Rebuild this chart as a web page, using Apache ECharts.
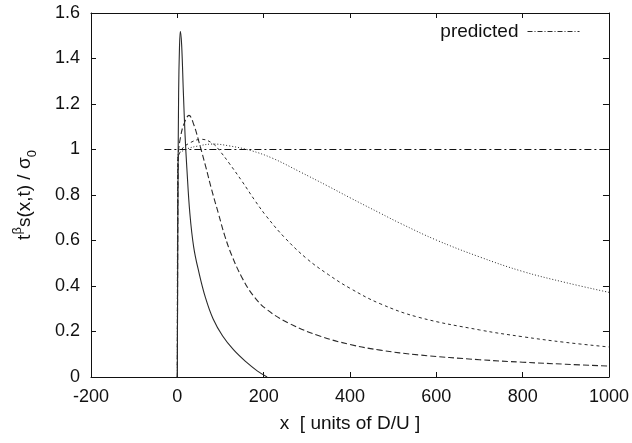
<!DOCTYPE html>
<html>
<head>
<meta charset="utf-8">
<script src="https://cdn.jsdelivr.net/npm/echarts@6/dist/echarts.min.js"></script>
<style>
  html, body { margin: 0; padding: 0; background: #fff; }
  #chart { width: 632px; height: 443px; }
</style>
</head>
<body>
<div id="chart"></div>
<script>
// values: [x, t^b s / sigma0]
const curveSolid = [
  [0, 0], [0.5, 0.3], [1.5, 0.8], [3, 1.25], [5, 1.45], [7, 1.52], [10, 1.46],
  [14, 1.25], [18, 1.06], [22, 0.92], [29, 0.72], [38, 0.57], [50, 0.46],
  [65, 0.35], [83, 0.255], [105, 0.18], [130, 0.12], [160, 0.065], [185, 0.027], [208, 0]
]
const curveLongDash = [
  [0, 0], [1, 0.6], [2.5, 0.98], [8, 1.06], [15, 1.11], [27, 1.15], [38, 1.11],
  [52, 1.02], [65, 0.93], [80, 0.82], [95, 0.72], [110, 0.62], [126, 0.535],
  [149, 0.44], [175, 0.36], [207, 0.297], [260, 0.235], [330, 0.18], [400, 0.143],
  [470, 0.118], [560, 0.097], [700, 0.076], [800, 0.065], [900, 0.056], [1000, 0.048]
]
const curveShortDash = [
  [0, 0], [1, 0.95], [10, 1.0], [30, 1.03], [56, 1.045], [83, 1.025], [100, 0.99],
  [120, 0.94], [150, 0.86], [180, 0.775], [207, 0.705], [250, 0.61], [300, 0.52],
  [350, 0.45], [400, 0.39], [470, 0.322], [560, 0.262], [700, 0.207], [800, 0.177],
  [900, 0.152], [1000, 0.132]
]
const curveDotted = [
  [0, 0], [1, 0.97], [20, 1.0], [50, 1.016], [83, 1.024], [120, 1.016], [169, 0.996],
  [220, 0.962], [284, 0.902], [350, 0.838], [400, 0.788], [470, 0.72], [516, 0.676],
  [600, 0.602], [700, 0.528], [800, 0.464], [900, 0.415], [1000, 0.372]
]
const predicted = [[-30, 1], [1000, 1]]

const xTicks = { min: -200, max: 1000, interval: 200 }
const yTicks = { min: 0, max: 1.6, interval: 0.2 }

const font = 'Liberation Sans, Arial, sans-serif'
const ink = '#111'
const lineInk = '#2a2a2a'

const chart = echarts.init(document.getElementById('chart'), null, { renderer: 'canvas' })

const axisBase = {
  type: 'value',
  splitLine: { show: false },
  axisLine: { show: true, onZero: false, lineStyle: { color: ink, width: 1 } },
  axisTick: { show: true, inside: true, length: 5, lineStyle: { color: ink } }
}

function curve(name, data, type, width) {
  return {
    name: name,
    type: 'line',
    data: data,
    showSymbol: false,
    symbol: 'none',
    smooth: 0.4,
    lineStyle: { color: lineInk, width: width || 1, type: type },
    itemStyle: { color: lineInk },
    z: 3
  }
}

chart.setOption({
  animation: false,
  backgroundColor: '#fff',
  grid: { left: 91, right: 23, top: 13, bottom: 66 },
  legend: {
    data: ['predicted'],
    right: 47,
    top: 17,
    align: 'right',
    itemWidth: 52,
    itemHeight: 10,
    itemGap: 0,
    itemStyle: { opacity: 0 },
    lineStyle: { color: lineInk, width: 1, type: [5, 2, 1, 2] },
    textStyle: { fontFamily: font, fontSize: 19, color: ink, padding: [0, 4, 0, 0] },
    selectedMode: false
  },
  xAxis: [
    Object.assign({}, axisBase, xTicks, {
      position: 'bottom',
      name: 'x  [ units of D/U ]',
      nameLocation: 'middle',
      nameGap: 37,
      nameTextStyle: { fontFamily: font, fontSize: 19, color: ink },
      axisLabel: { fontFamily: font, fontSize: 18, color: ink, margin: 11, formatter: v => String(v) }
    }),
    Object.assign({}, axisBase, xTicks, {
      position: 'top',
      axisLabel: { show: false }
    })
  ],
  yAxis: [
    Object.assign({}, axisBase, yTicks, {
      position: 'left',
      name: '{t|t}{sup|β}{t|s(x,t) / σ}{sub|0}',
      nameLocation: 'middle',
      nameRotate: 90,
      nameGap: 52,
      nameTextStyle: {
        fontFamily: font, fontSize: 19, color: ink,
        rich: {
          t: { fontFamily: font, fontSize: 19, color: ink, lineHeight: 28, verticalAlign: 'middle' },
          sup: { fontFamily: font, fontSize: 13, color: ink, lineHeight: 28, verticalAlign: 'top' },
          sub: { fontFamily: font, fontSize: 13, color: ink, lineHeight: 28, verticalAlign: 'bottom' }
        }
      },
      axisLabel: { fontFamily: font, fontSize: 18, color: ink, margin: 11 }
    }),
    Object.assign({}, axisBase, yTicks, {
      position: 'right',
      axisTick: { show: true, inside: true, length: 6, lineStyle: { color: ink } },
      axisLabel: { show: false }
    })
  ],
  series: [
    curve('solid', curveSolid, 'solid', 1.1),
    curve('long', curveLongDash, [6, 3], 1.1),
    curve('short', curveShortDash, [3, 3], 1),
    curve('dotted', curveDotted, [1, 2], 1),
    {
      name: 'predicted',
      type: 'line',
      data: predicted,
      showSymbol: false,
      symbol: 'none',
      lineStyle: { color: ink, width: 1.2, type: [7, 3, 2, 3] },
      itemStyle: { color: ink },
      z: 4
    }
  ]
})
</script>
</body>
</html>
